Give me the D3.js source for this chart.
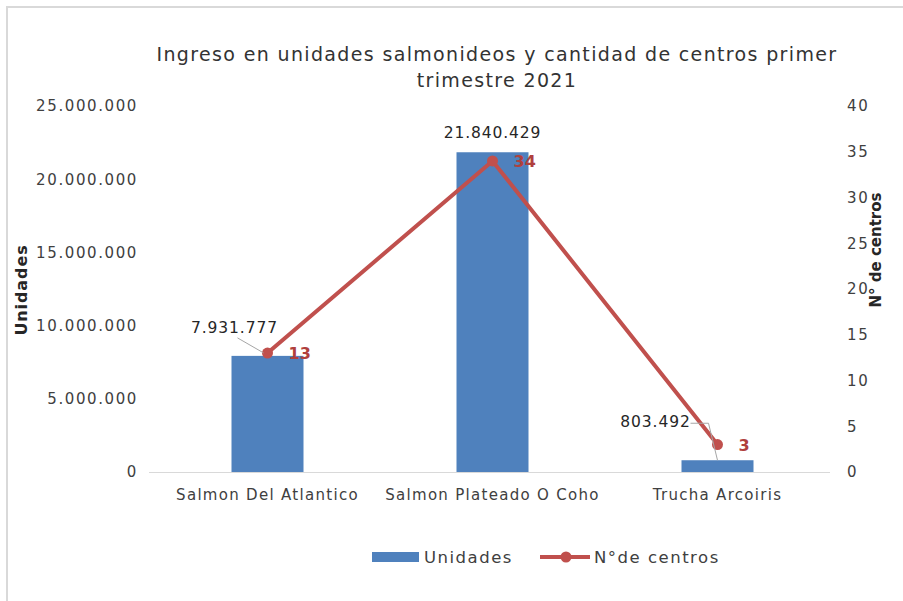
<!DOCTYPE html>
<html>
<head>
<meta charset="utf-8">
<script src="https://cdn.jsdelivr.net/npm/d3@7"></script>
<style>
  body { margin: 0; background: #fff; }
  svg { font-family: "DejaVu Sans", Verdana, sans-serif; }
</style>
</head>
<body>
<svg id="chart" width="903" height="601"></svg>
<script>
// data
var categories = ['Salmon Del Atlantico', 'Salmon Plateado O Coho', 'Trucha Arcoiris'];
var unidades = [7931777, 21840429, 803492];
var centros = [13, 34, 3];
var leftTicks = [0, 5000000, 10000000, 15000000, 20000000, 25000000];
var rightTicks = [0, 5, 10, 15, 20, 25, 30, 35, 40];
var titleLines = ['Ingreso en unidades salmonideos y cantidad de centros primer', 'trimestre 2021'];

var barColor = '#4f81bd', lineColor = '#c0504d', textColor = '#404040';
var fmt = function(v) { return d3.format(',')(v).replace(/,/g, '.'); };

var svg = d3.select('#chart');

// chart frame (only top and left edges are visible in the crop)
svg.append('line').attr('x1', 6).attr('x2', 903).attr('y1', 7).attr('y2', 7)
  .attr('stroke', '#d9d9d9').attr('stroke-width', 2);
svg.append('line').attr('x1', 7).attr('x2', 7).attr('y1', 6).attr('y2', 601)
  .attr('stroke', '#d9d9d9').attr('stroke-width', 2);

var plot = {left: 155, right: 830, top: 106, bottom: 472};

var x = d3.scaleBand().domain(categories).range([plot.left, plot.right]).paddingInner(0.68).paddingOuter(0.34);
var y = d3.scaleLinear().domain([0, 25000000]).range([plot.bottom, plot.top]);
var y2 = d3.scaleLinear().domain([0, 40]).range([plot.bottom, plot.top]);

// title
svg.append('text').attr('text-anchor', 'middle')
  .attr('font-size', 19).attr('fill', '#333').attr('letter-spacing', 1.35)
  .selectAll('tspan').data(titleLines).enter().append('tspan')
  .attr('x', 497).attr('y', function(d, i) { return 61 + i * 26; })
  .text(function(d) { return d; });

// left axis
var gl = svg.append('g').attr('transform', 'translate(' + plot.left + ',0)')
  .call(d3.axisLeft(y).tickValues(leftTicks).tickFormat(fmt).tickSize(0).tickPadding(17));
gl.select('.domain').remove();
gl.selectAll('text').attr('font-size', 15).attr('fill', textColor)
  .attr('letter-spacing', 1.6).attr('font-family', '"DejaVu Sans", sans-serif');

// right axis
var gr = svg.append('g').attr('transform', 'translate(' + plot.right + ',0)')
  .call(d3.axisRight(y2).tickValues(rightTicks).tickSize(0).tickPadding(17));
gr.select('.domain').remove();
gr.selectAll('text').attr('font-size', 15).attr('fill', textColor)
  .attr('letter-spacing', 1.6).attr('font-family', '"DejaVu Sans", sans-serif');

// x axis
var gx = svg.append('g').attr('transform', 'translate(0,' + plot.bottom + ')')
  .call(d3.axisBottom(x).tickSize(0).tickPadding(17));
gx.select('.domain').attr('stroke', '#d9d9d9').attr('d', 'M' + (plot.left - 6) + ',0.5H' + plot.right);
gx.selectAll('text').attr('font-size', 15).attr('fill', textColor)
  .attr('letter-spacing', 1.3).attr('font-family', '"DejaVu Sans", sans-serif');

// axis titles
svg.append('text').attr('transform', 'translate(27,290) rotate(-90)')
  .attr('text-anchor', 'middle').attr('font-size', 16).attr('font-weight', 'bold')
  .attr('letter-spacing', 0.9).attr('fill', '#262626').text('Unidades');
svg.append('text').attr('transform', 'translate(881,250) rotate(-90)')
  .attr('text-anchor', 'middle').attr('font-size', 15).attr('font-weight', 'bold')
  .attr('fill', '#262626').text('N° de centros');

// bars
svg.selectAll('rect.bar').data(unidades).enter().append('rect')
  .attr('class', 'bar')
  .attr('x', function(d, i) { return x(categories[i]); })
  .attr('width', x.bandwidth())
  .attr('y', function(d) { return y(d); })
  .attr('height', function(d) { return y(0) - y(d); })
  .attr('fill', barColor);

// line + markers
var cx = function(i) { return x(categories[i]) + x.bandwidth() / 2; };
var line = d3.line().x(function(d, i) { return cx(i); }).y(function(d) { return y2(d); });
svg.append('path').attr('d', line(centros)).attr('fill', 'none')
  .attr('stroke', lineColor).attr('stroke-width', 4).attr('stroke-linejoin', 'round');
svg.selectAll('circle.pt').data(centros).enter().append('circle')
  .attr('class', 'pt')
  .attr('cx', function(d, i) { return cx(i); })
  .attr('cy', function(d) { return y2(d); })
  .attr('r', 5.5).attr('fill', lineColor);

// bar labels: offsets from the bar top, with leader lines where Excel moved them
var barLabelOffset = [[-33, -23], [0, -14], [-62, -33]];
svg.selectAll('text.blab').data(unidades).enter().append('text')
  .attr('class', 'blab')
  .attr('x', function(d, i) { return cx(i) + barLabelOffset[i][0]; })
  .attr('y', function(d, i) { return y(d) + barLabelOffset[i][1]; })
  .attr('text-anchor', 'middle').attr('font-size', 15.5).attr('fill', '#262626')
  .attr('letter-spacing', 0.9)
  .text(function(d) { return fmt(d); });

// leader lines
svg.append('path').attr('fill', 'none').attr('stroke', '#a6a6a6').attr('stroke-width', 1)
  .attr('d', 'M' + (cx(0) - 30) + ',' + (y(unidades[0]) - 18) + 'L' + (cx(0) - 4) + ',' + (y(unidades[0]) - 3));
svg.append('path').attr('fill', 'none').attr('stroke', '#a6a6a6').attr('stroke-width', 1)
  .attr('d', 'M' + (cx(2) - 27) + ',' + (y(unidades[2]) - 37) + 'H' + (cx(2) - 9) + 'L' + (cx(2)) + ',' + (y(unidades[2])));

// line labels
svg.selectAll('text.llab').data(centros).enter().append('text')
  .attr('class', 'llab')
  .attr('x', function(d, i) { return cx(i) + 21; })
  .attr('y', function(d) { return y2(d) + 6; })
  .attr('font-size', 16).attr('font-weight', 'bold').attr('fill', '#b0403d')
  .text(function(d) { return d; });

// legend
var lg = svg.append('g').attr('transform', 'translate(0,557)');
lg.append('rect').attr('x', 372).attr('y', -5).attr('width', 47).attr('height', 10).attr('fill', barColor);
lg.append('text').attr('x', 424).attr('y', 6).attr('font-size', 16.5).attr('fill', textColor)
  .attr('letter-spacing', 1.5).text('Unidades');
lg.append('line').attr('x1', 540).attr('x2', 590).attr('y1', 0).attr('y2', 0)
  .attr('stroke', lineColor).attr('stroke-width', 4);
lg.append('circle').attr('cx', 566).attr('cy', 0).attr('r', 5.5).attr('fill', lineColor);
lg.append('text').attr('x', 594).attr('y', 6).attr('font-size', 16.5).attr('fill', textColor)
  .attr('letter-spacing', 1.5).text('N°de centros');
</script>
</body>
</html>
